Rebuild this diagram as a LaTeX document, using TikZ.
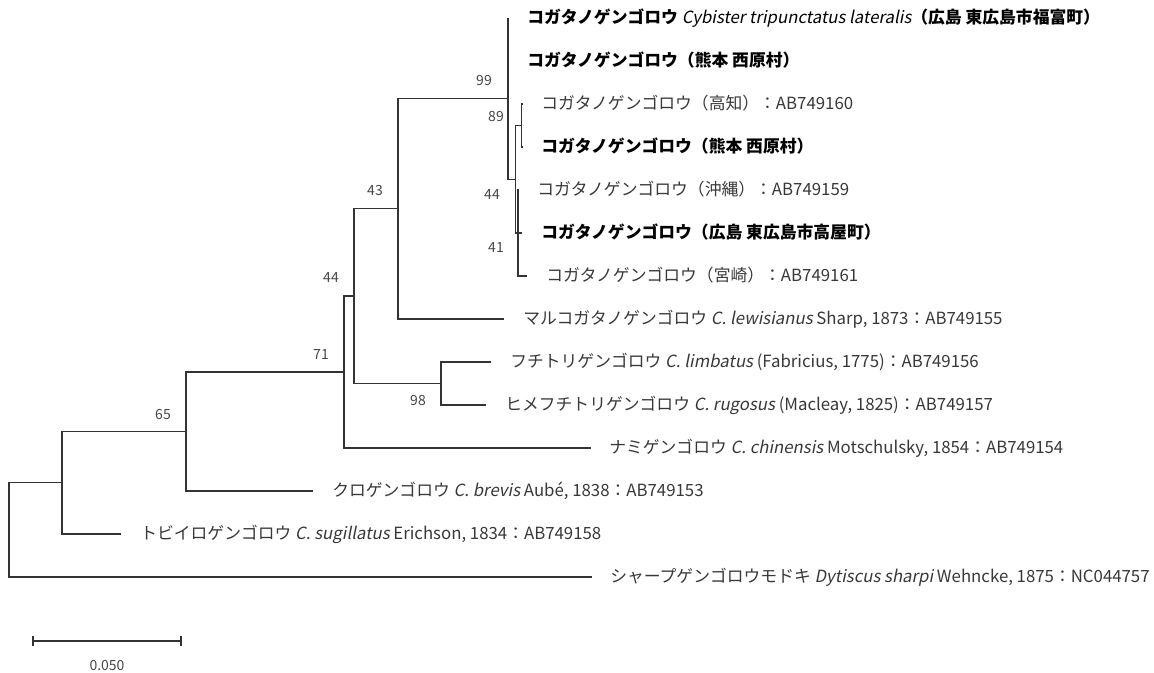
\documentclass[tikz,border=0pt]{standalone}
\usepackage{fontspec}
\setmainfont{Noto Sans CJK JP}[AutoFakeSlant=0.2]
\begin{document}
\begin{tikzpicture}[x=0.75pt,y=-0.75pt,
  branch/.style={draw=black!80, line width=1pt},
  leaflab/.style={anchor=base west, inner sep=0pt, text=black!78, font=\fontsize{12.6}{15}\selectfont},
  boldlab/.style={anchor=base west, inner sep=0pt, text=black, font=\fontsize{12.6}{15}\selectfont\bfseries},
  bslab/.style={inner sep=0pt, text=black!72, font=\fontsize{10.5}{12}\selectfont}]
\useasboundingbox (0,0) rectangle (1154,673);
% internal nodes
\coordinate (R) at (9,530);
\coordinate (N1) at (62,482.75);
\coordinate (N2) at (186,431.5);
\coordinate (N3) at (344,372);
\coordinate (N4) at (354,296);
\coordinate (N5) at (398,208.8);
\coordinate (N6) at (441,383.5);
\coordinate (A) at (508,98.6);
\coordinate (B) at (515.7,179.25);
\coordinate (C) at (521.7,125.5);
\coordinate (D) at (518,233);
% leaf ends
\coordinate (e1) at (508,18);
\coordinate (e2) at (508,61);
\coordinate (e3) at (523,104);
\coordinate (e4) at (523,147);
\coordinate (e5) at (518.5,190);
\coordinate (e6) at (521.7,233);
\coordinate (e7) at (526.7,276);
\coordinate (e8) at (504,319);
\coordinate (e9) at (491,362);
\coordinate (e10) at (486,405);
\coordinate (e11) at (591,448);
\coordinate (e12) at (313,491);
\coordinate (e13) at (121,534);
\coordinate (e14) at (592,577);
% branches
\draw[branch] (R) |- (N1);
\draw[branch] (R) |- (e14);
\draw[branch] (N1) |- (N2);
\draw[branch] (N1) |- (e13);
\draw[branch] (N2) |- (N3);
\draw[branch] (N2) |- (e12);
\draw[branch] (N3) |- (N4);
\draw[branch] (N3) |- (e11);
\draw[branch] (N4) |- (N5);
\draw[branch] (N4) |- (N6);
\draw[branch] (N5) |- (A);
\draw[branch] (N5) |- (e8);
\draw[branch] (N6) |- (e9);
\draw[branch] (N6) |- (e10);
\draw[branch] (A) |- (e1);
\draw[branch] (A) |- (e2);
\draw[branch] (A) |- (B);
\draw[branch] (B) |- (C);
\draw[branch] (B) |- (D);
\draw[branch] (C) |- (e3);
\draw[branch] (C) |- (e4);
\draw[branch] (D) |- (e5);
\draw[branch] (D) |- (e6);
\draw[branch] (D) |- (e7);
% leaf labels
\node[boldlab] (t1) at (527,24) {コガタノゲンゴロウ {\mdseries\itshape Cybister tripunctatus lateralis}（広島 東広島市福富町）};
\node[boldlab] (t2) at (527,67) {コガタノゲンゴロウ（熊本 西原村）};
\node[leaflab] (t3) at (541,110) {コガタノゲンゴロウ（高知）：AB749160};
\node[boldlab] (t4) at (541,153) {コガタノゲンゴロウ（熊本 西原村）};
\node[leaflab] (t5) at (537,196) {コガタノゲンゴロウ（沖縄）：AB749159};
\node[boldlab] (t6) at (541,239) {コガタノゲンゴロウ（広島 東広島市高屋町）};
\node[leaflab] (t7) at (546,282) {コガタノゲンゴロウ（宮崎）：AB749161};
\node[leaflab] (t8) at (523,325) {マルコガタノゲンゴロウ \textit{C. lewisianus} Sharp, 1873：AB749155};
\node[leaflab] (t9) at (510,368) {フチトリゲンゴロウ \textit{C. limbatus} (Fabricius, 1775)：AB749156};
\node[leaflab] (t10) at (505,411) {ヒメフチトリゲンゴロウ \textit{C. rugosus} (Macleay, 1825)：AB749157};
\node[leaflab] (t11) at (609,454) {ナミゲンゴロウ \textit{C. chinensis} Motschulsky, 1854：AB749154};
\node[leaflab] (t12) at (332,497) {クロゲンゴロウ \textit{C. brevis} Aubé, 1838：AB749153};
\node[leaflab] (t13) at (140,540) {トビイロゲンゴロウ \textit{C. sugillatus} Erichson, 1834：AB749158};
\node[leaflab] (t14) at (610,583) {シャープゲンゴロウモドキ \textit{Dytiscus sharpi} Wehncke, 1875：NC044757};
% bootstrap values
\node[bslab] (b99) at (484,81) {99};
\node[bslab] (b89) at (496,117) {89};
\node[bslab] (b44a) at (492,195) {44};
\node[bslab] (b41) at (496,248) {41};
\node[bslab] (b43) at (375,191) {43};
\node[bslab] (b44b) at (331,278) {44};
\node[bslab] (b71) at (321,355) {71};
\node[bslab] (b98) at (418,401) {98};
\node[bslab] (b65) at (163,415) {65};
% scale bar
\coordinate (s1) at (33,641);
\coordinate (s2) at (181,641);
\draw[branch] (s1) -- (s2);
\draw[branch] ([yshift=3.75pt]s1) -- ([yshift=-3.75pt]s1);
\draw[branch] ([yshift=3.75pt]s2) -- ([yshift=-3.75pt]s2);
\node[bslab] (sl) at (107,666) {0.050};
\end{tikzpicture}
\end{document}
